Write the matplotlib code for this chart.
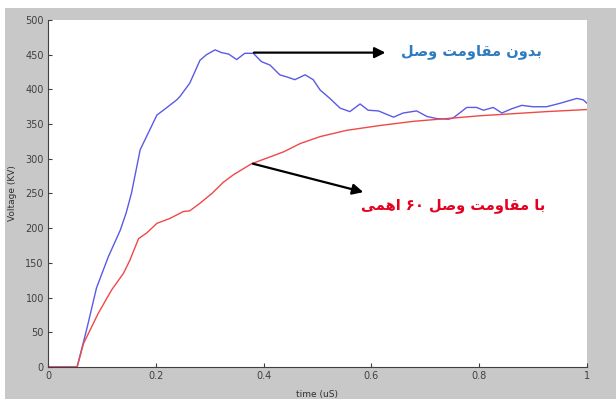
import matplotlib
matplotlib.use("Agg")
import matplotlib.pyplot as plt
from matplotlib.patches import Rectangle

# Voltage without connection resistance (blue)
t_blue = [0.0, 0.054, 0.072, 0.090, 0.112, 0.134, 0.145, 0.155, 0.171, 0.189, 0.202, 0.214,
          0.239, 0.245, 0.263, 0.282, 0.294, 0.310, 0.322, 0.335, 0.350, 0.365, 0.381, 0.396,
          0.412, 0.430, 0.443, 0.458, 0.477, 0.492, 0.505, 0.523, 0.542, 0.560, 0.579, 0.594,
          0.613, 0.641, 0.659, 0.684, 0.703, 0.721, 0.743, 0.752, 0.777, 0.795, 0.808, 0.826,
          0.842, 0.860, 0.879, 0.900, 0.925, 0.950, 0.981, 0.993, 1.0]
v_blue = [0, 0, 55, 114, 159, 197, 222, 251, 313, 342, 363, 370,
          385, 390, 409, 442, 450, 457, 453, 451, 443, 452, 452, 440,
          435, 421, 418, 414, 421, 414, 399, 387, 373, 368, 379, 370,
          369, 360, 366, 369, 361, 358, 357, 359, 374, 374, 370, 374,
          366, 372, 377, 375, 375, 380, 387, 385, 380]

# Voltage with 60 ohm connection resistance (red)
t_red = [0.0, 0.054, 0.066, 0.093, 0.118, 0.140, 0.152, 0.168, 0.183, 0.202, 0.226, 0.251,
         0.263, 0.282, 0.304, 0.325, 0.344, 0.378, 0.406, 0.437, 0.468, 0.505, 0.554, 0.616,
         0.678, 0.740, 0.801, 0.863, 0.925, 1.0]
v_red = [0, 0, 34, 77, 111, 135, 154, 185, 193, 207, 214, 224,
         225, 236, 250, 266, 277, 293, 301, 310, 322, 332, 341, 348,
         354, 358, 362, 365, 368, 371]

x_ticks = [0, 0.2, 0.4, 0.6, 0.8, 1]
x_tick_labels = ["0", "0.2", "0.4", "0.6", "0.8", "1"]
y_ticks = list(range(0, 501, 50))

label_blue = "بدون مقاومت وصل"
label_red = "با مقاومت وصل ۶۰ اهمی"

# Arabic letter forms: isolated, final, initial, medial
FORMS = {
    "ب": ("\uFE8F", "\uFE90", "\uFE91", "\uFE92"),
    "د": ("\uFEA9", "\uFEAA", "\uFEA9", "\uFEAA"),
    "و": ("\uFEED", "\uFEEE", "\uFEED", "\uFEEE"),
    "ن": ("\uFEE5", "\uFEE6", "\uFEE7", "\uFEE8"),
    "م": ("\uFEE1", "\uFEE2", "\uFEE3", "\uFEE4"),
    "ق": ("\uFED5", "\uFED6", "\uFED7", "\uFED8"),
    "ا": ("\uFE8D", "\uFE8E", "\uFE8D", "\uFE8E"),
    "ت": ("\uFE95", "\uFE96", "\uFE97", "\uFE98"),
    "ص": ("\uFEB9", "\uFEBA", "\uFEBB", "\uFEBC"),
    "ل": ("\uFEDD", "\uFEDE", "\uFEDF", "\uFEE0"),
    "ه": ("\uFEE9", "\uFEEA", "\uFEEB", "\uFEEC"),
    "ی": ("\uFBFC", "\uFBFD", "\uFBFE", "\uFBFF"),
}
RIGHT_ONLY = set("ادو")


def shapeWord(word):
    out = []
    for i, ch in enumerate(word):
        if ch not in FORMS:
            out.append(ch)
            continue
        prev = word[i - 1] if i > 0 else ""
        nxt = word[i + 1] if i + 1 < len(word) else ""
        joinPrev = prev in FORMS and prev not in RIGHT_ONLY
        joinNext = ch not in RIGHT_ONLY and nxt in FORMS
        f = FORMS[ch]
        if joinPrev and joinNext:
            out.append(f[3])
        elif joinPrev:
            out.append(f[1])
        elif joinNext:
            out.append(f[2])
        else:
            out.append(f[0])
    return "".join(out)


# matplotlib draws left to right, so shape the letters and lay the words out in visual order
def rtl(text):
    words = []
    for w in reversed(text.split(" ")):
        if all(c in "۰۱۲۳۴۵۶۷۸۹" for c in w):
            words.append(w)
        else:
            words.append(shapeWord(w)[::-1])
    return " ".join(words)


grey = "#c8c8c8"
fig = plt.figure(figsize=(6.16, 3.99), dpi=100, facecolor=grey)
# white strip on top and left of the screenshot
fig.patches.append(Rectangle((0, 1 - 8 / 399), 1, 8 / 399, transform=fig.transFigure,
                             facecolor="white", edgecolor="none", zorder=-1))
fig.patches.append(Rectangle((0, 0), 5 / 616, 1, transform=fig.transFigure,
                             facecolor="white", edgecolor="none", zorder=-1))

ax = fig.add_axes([48 / 616, 32 / 399, 539 / 616, 347 / 399])
ax.plot(t_blue, v_blue, color="#5a5ae6", linewidth=1.0)
ax.plot(t_red, v_red, color="#f04848", linewidth=1.0)

ax.set_xlim(0, 1)
ax.set_ylim(0, 500)
ax.set_xticks(x_ticks)
ax.set_xticklabels(x_tick_labels)
ax.set_yticks(y_ticks)
ax.tick_params(direction="in", length=3, width=0.8, labelsize=7, colors="#404040", pad=3)
for s in ["top", "right"]:
    ax.spines[s].set_visible(False)
for s in ["left", "bottom"]:
    ax.spines[s].set_color("#404040")
    ax.spines[s].set_linewidth(0.8)

ax.set_xlabel("time (uS)", fontsize=6.5, color="#303030", labelpad=6)
ax.set_ylabel("Voltage (KV)", fontsize=6.5, color="#303030", labelpad=6)

arrow = dict(arrowstyle="-|>", color="black", lw=1.6, mutation_scale=16, shrinkA=0, shrinkB=0)
ax.annotate("", xy=(0.626, 453), xytext=(0.382, 453), arrowprops=arrow)
ax.annotate("", xy=(0.585, 252), xytext=(0.380, 293), arrowprops=arrow)

ax.text(0.785, 455, rtl(label_blue), fontsize=10.5, fontweight="bold", color="#2e7cc0",
        ha="center", va="center", family="DejaVu Sans")
ax.text(0.752, 233, rtl(label_red), fontsize=10.5, fontweight="bold", color="#e4001e",
        ha="center", va="center", family="DejaVu Sans")

fig.savefig("out.png", dpi=100, facecolor=grey)
